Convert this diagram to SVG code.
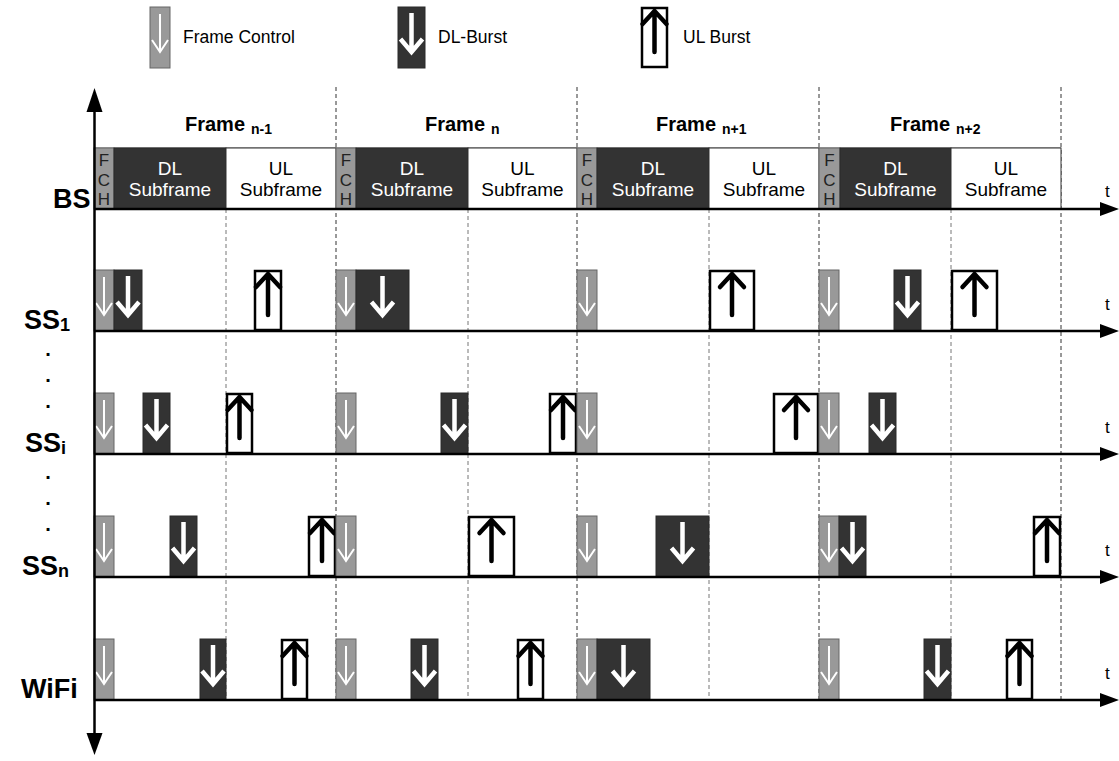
<svg xmlns="http://www.w3.org/2000/svg" width="1119" height="761" viewBox="0 0 1119 761">
<style>
.ax{stroke:#000;stroke-width:2.5;fill:none}
.ah{fill:#000}
.d1{stroke:#333;stroke-width:1;stroke-dasharray:4 3;fill:none}
.d2{stroke:#777;stroke-width:1;stroke-dasharray:4 3;fill:none}
.fc{fill:#999;stroke:#666;stroke-width:1}
.dl{fill:#333;stroke:#2a2a2a;stroke-width:1}
.ul{fill:#fff;stroke:#000;stroke-width:2.5}
.ulb{fill:#fff;stroke:#333;stroke-width:1}
.lbl{font-family:"Liberation Sans",Arial,sans-serif;font-weight:bold;font-size:27px;fill:#000}
.dot{font-family:"Liberation Sans",Arial,sans-serif;font-weight:bold;font-size:20px;fill:#000;text-anchor:middle}
.hdr{font-family:"Liberation Sans",Arial,sans-serif;font-weight:bold;font-size:20px;fill:#000}
.sub{font-size:14px}
.leg{font-family:"Liberation Sans",Arial,sans-serif;font-size:17.5px;fill:#000}
.sf{font-family:"Liberation Sans",Arial,sans-serif;font-size:19px;text-anchor:middle}
.fch{font-family:"Liberation Sans",Arial,sans-serif;font-size:17px;text-anchor:middle;fill:#222}
.tt{font-family:"Liberation Sans",Arial,sans-serif;font-size:17px;fill:#000}
</style>
<defs>
<g id="aFC"><path d="M0,-54V-16M-8,-28L0,-16L8,-28" fill="none" stroke="#fff" stroke-width="2"/></g>
<g id="aDL"><path d="M0,-55V-17M-11,-29L0,-16L11,-29" fill="none" stroke="#fff" stroke-width="4.5"/></g>
<g id="aUL"><path d="M0,-57V-16M-12,-44L0,-57L12,-44" fill="none" stroke="#000" stroke-width="4.5" stroke-linecap="round"/></g>
</defs>

<g id="legend">
<g id="leg-fc"><rect class="fc" x="150" y="7" width="20" height="61"/><use href="#aFC" x="160" y="68"/><text class="leg" x="183" y="43">Frame Control</text></g>
<g id="leg-dl"><rect class="dl" x="398" y="7" width="27" height="61"/><use href="#aDL" x="411.5" y="68"/><text class="leg" x="438" y="43">DL-Burst</text></g>
<g id="leg-ul"><rect class="ul" x="642" y="8" width="25" height="59"/><use href="#aUL" x="654.5" y="68"/><text class="leg" x="683" y="43">UL Burst</text></g>
</g>

<g id="connectors">
<path class="d1" d="M336,87V700M577,87V700M819,87V700M1061,87V700"/>
<path class="d2" d="M226,209V700M468,209V700M709,209V700M951,209V700"/>
</g>

<g id="headers">
<text class="hdr" x="185" y="131">Frame<tspan class="sub" dx="6" dy="3">n-1</tspan></text>
<text class="hdr" x="425" y="131">Frame<tspan class="sub" dx="6" dy="3">n</tspan></text>
<text class="hdr" x="656" y="131">Frame<tspan class="sub" dx="6" dy="3">n+1</tspan></text>
<text class="hdr" x="890" y="131">Frame<tspan class="sub" dx="6" dy="3">n+2</tspan></text>
</g>

<g id="bs-row">
<line x1="94" y1="148" x2="1061" y2="148" stroke="#666" stroke-width="1"/>
<g id="bs-f1"><rect class="fc" x="94" y="148" width="20" height="61"/><text class="fch"><tspan x="104" y="166">F</tspan><tspan x="104" y="185.5">C</tspan><tspan x="104" y="205">H</tspan></text>
<rect class="dl" x="114" y="148" width="112" height="61"/><text class="sf" fill="#fff"><tspan x="170" y="175">DL</tspan><tspan x="170" y="196">Subframe</tspan></text>
<rect class="ulb" x="226" y="148" width="110" height="61"/><text class="sf" fill="#000"><tspan x="281" y="175">UL</tspan><tspan x="281" y="196">Subframe</tspan></text></g>
<g id="bs-f2"><rect class="fc" x="336" y="148" width="20" height="61"/><text class="fch"><tspan x="346" y="166">F</tspan><tspan x="346" y="185.5">C</tspan><tspan x="346" y="205">H</tspan></text>
<rect class="dl" x="356" y="148" width="112" height="61"/><text class="sf" fill="#fff"><tspan x="412" y="175">DL</tspan><tspan x="412" y="196">Subframe</tspan></text>
<rect class="ulb" x="468" y="148" width="109" height="61"/><text class="sf" fill="#000"><tspan x="522.5" y="175">UL</tspan><tspan x="522.5" y="196">Subframe</tspan></text></g>
<g id="bs-f3"><rect class="fc" x="577" y="148" width="20" height="61"/><text class="fch"><tspan x="587" y="166">F</tspan><tspan x="587" y="185.5">C</tspan><tspan x="587" y="205">H</tspan></text>
<rect class="dl" x="597" y="148" width="112" height="61"/><text class="sf" fill="#fff"><tspan x="653" y="175">DL</tspan><tspan x="653" y="196">Subframe</tspan></text>
<rect class="ulb" x="709" y="148" width="110" height="61"/><text class="sf" fill="#000"><tspan x="764" y="175">UL</tspan><tspan x="764" y="196">Subframe</tspan></text></g>
<g id="bs-f4"><rect class="fc" x="819" y="148" width="21" height="61"/><text class="fch"><tspan x="829.5" y="166">F</tspan><tspan x="829.5" y="185.5">C</tspan><tspan x="829.5" y="205">H</tspan></text>
<rect class="dl" x="840" y="148" width="111" height="61"/><text class="sf" fill="#fff"><tspan x="895.5" y="175">DL</tspan><tspan x="895.5" y="196">Subframe</tspan></text>
<rect class="ulb" x="951" y="148" width="110" height="61"/><text class="sf" fill="#000"><tspan x="1006" y="175">UL</tspan><tspan x="1006" y="196">Subframe</tspan></text></g>
</g>

<g id="ss1-row">
<g id="ss1-1"><rect class="fc" x="94" y="270" width="20" height="61"/><use href="#aFC" x="104" y="331"/></g>
<g id="ss1-2"><rect class="dl" x="114" y="270" width="28" height="61"/><use href="#aDL" x="128" y="331"/></g>
<g id="ss1-3"><rect class="ul" x="255" y="271" width="26" height="59"/><use href="#aUL" x="268" y="331"/></g>
<g id="ss1-4"><rect class="fc" x="336" y="270" width="20" height="61"/><use href="#aFC" x="346" y="331"/></g>
<g id="ss1-5"><rect class="dl" x="356" y="270" width="53" height="61"/><use href="#aDL" x="382.5" y="331"/></g>
<g id="ss1-6"><rect class="fc" x="577" y="270" width="20" height="61"/><use href="#aFC" x="587" y="331"/></g>
<g id="ss1-7"><rect class="ul" x="710" y="271" width="44" height="59"/><use href="#aUL" x="732" y="331"/></g>
<g id="ss1-8"><rect class="fc" x="819" y="270" width="20" height="61"/><use href="#aFC" x="829" y="331"/></g>
<g id="ss1-9"><rect class="dl" x="894" y="270" width="27" height="61"/><use href="#aDL" x="907.5" y="331"/></g>
<g id="ss1-10"><rect class="ul" x="952" y="271" width="45" height="59"/><use href="#aUL" x="974.5" y="331"/></g>
</g>

<g id="ssi-row">
<g id="ssi-1"><rect class="fc" x="94" y="393" width="20" height="61"/><use href="#aFC" x="104" y="454"/></g>
<g id="ssi-2"><rect class="dl" x="143" y="393" width="27" height="61"/><use href="#aDL" x="156.5" y="454"/></g>
<g id="ssi-3"><rect class="ul" x="227" y="394" width="25" height="59"/><use href="#aUL" x="239.5" y="454"/></g>
<g id="ssi-4"><rect class="fc" x="336" y="393" width="20" height="61"/><use href="#aFC" x="346" y="454"/></g>
<g id="ssi-5"><rect class="dl" x="441" y="393" width="27" height="61"/><use href="#aDL" x="454.5" y="454"/></g>
<g id="ssi-6"><rect class="ul" x="550" y="394" width="26" height="59"/><use href="#aUL" x="563" y="454"/></g>
<g id="ssi-7"><rect class="fc" x="577" y="393" width="20" height="61"/><use href="#aFC" x="587" y="454"/></g>
<g id="ssi-8"><rect class="ul" x="774" y="394" width="44" height="59"/><use href="#aUL" x="796" y="454"/></g>
<g id="ssi-9"><rect class="fc" x="819" y="393" width="20" height="61"/><use href="#aFC" x="829" y="454"/></g>
<g id="ssi-10"><rect class="dl" x="869" y="393" width="27" height="61"/><use href="#aDL" x="882.5" y="454"/></g>
</g>

<g id="ssn-row">
<g id="ssn-1"><rect class="fc" x="94" y="516" width="20" height="61"/><use href="#aFC" x="104" y="577"/></g>
<g id="ssn-2"><rect class="dl" x="170" y="516" width="27" height="61"/><use href="#aDL" x="183.5" y="577"/></g>
<g id="ssn-3"><rect class="ul" x="309" y="517" width="26" height="59"/><use href="#aUL" x="322" y="577"/></g>
<g id="ssn-4"><rect class="fc" x="336" y="516" width="20" height="61"/><use href="#aFC" x="346" y="577"/></g>
<g id="ssn-5"><rect class="ul" x="469" y="517" width="45" height="59"/><use href="#aUL" x="491.5" y="577"/></g>
<g id="ssn-6"><rect class="fc" x="577" y="516" width="20" height="61"/><use href="#aFC" x="587" y="577"/></g>
<g id="ssn-7"><rect class="dl" x="656" y="516" width="53" height="61"/><use href="#aDL" x="682.5" y="577"/></g>
<g id="ssn-8"><rect class="fc" x="819" y="516" width="20" height="61"/><use href="#aFC" x="829" y="577"/></g>
<g id="ssn-9"><rect class="dl" x="839" y="516" width="27" height="61"/><use href="#aDL" x="852.5" y="577"/></g>
<g id="ssn-10"><rect class="ul" x="1034" y="517" width="26" height="59"/><use href="#aUL" x="1047" y="577"/></g>
</g>

<g id="wifi-row">
<g id="wf-1"><rect class="fc" x="94" y="639" width="20" height="61"/><use href="#aFC" x="104" y="700"/></g>
<g id="wf-2"><rect class="dl" x="200" y="639" width="26" height="61"/><use href="#aDL" x="213" y="700"/></g>
<g id="wf-3"><rect class="ul" x="282" y="640" width="25" height="59"/><use href="#aUL" x="294.5" y="700"/></g>
<g id="wf-4"><rect class="fc" x="336" y="639" width="20" height="61"/><use href="#aFC" x="346" y="700"/></g>
<g id="wf-5"><rect class="dl" x="411" y="639" width="27" height="61"/><use href="#aDL" x="424.5" y="700"/></g>
<g id="wf-6"><rect class="ul" x="518" y="640" width="25" height="59"/><use href="#aUL" x="530.5" y="700"/></g>
<g id="wf-7"><rect class="fc" x="577" y="639" width="20" height="61"/><use href="#aFC" x="587" y="700"/></g>
<g id="wf-8"><rect class="dl" x="597" y="639" width="53" height="61"/><use href="#aDL" x="623.5" y="700"/></g>
<g id="wf-9"><rect class="fc" x="819" y="639" width="20" height="61"/><use href="#aFC" x="829" y="700"/></g>
<g id="wf-10"><rect class="dl" x="924" y="639" width="27" height="61"/><use href="#aDL" x="937.5" y="700"/></g>
<g id="wf-11"><rect class="ul" x="1007" y="640" width="25" height="59"/><use href="#aUL" x="1019.5" y="700"/></g>
</g>

<g id="axes">
<path class="ax" d="M94.5,108V740"/>
<polygon class="ah" points="94.5,88 86.5,112 102.5,112"/>
<polygon class="ah" points="94.5,755 86.5,733 102.5,733"/>
<path class="ax" d="M94,209H1102M94,331H1102M94,454H1102M94,577H1102M94,700H1102"/>
<polygon class="ah" points="1100,202 1119,209 1100,216"/>
<polygon class="ah" points="1100,324 1119,331 1100,338"/>
<polygon class="ah" points="1100,447 1119,454 1100,461"/>
<polygon class="ah" points="1100,570 1119,577 1100,584"/>
<polygon class="ah" points="1100,693 1119,700 1100,707"/>
<text class="tt" x="1105" y="197">t</text>
<text class="tt" x="1105" y="310">t</text>
<text class="tt" x="1105" y="433">t</text>
<text class="tt" x="1105" y="556">t</text>
<text class="tt" x="1105" y="679">t</text>
</g>

<g id="labels">
<text class="lbl" x="53" y="208">BS</text>
<text class="lbl" x="24" y="329">SS<tspan font-size="18" dy="2">1</tspan></text>
<text class="lbl" x="25" y="452">SS<tspan font-size="18" dy="2">i</tspan></text>
<text class="lbl" x="22" y="575">SS<tspan font-size="18" dy="2">n</tspan></text>
<text class="lbl" x="21" y="698">WiFi</text>
<text class="dot" x="48" y="356">.</text>
<text class="dot" x="48" y="382">.</text>
<text class="dot" x="48" y="408">.</text>
<text class="dot" x="48" y="479">.</text>
<text class="dot" x="48" y="505">.</text>
<text class="dot" x="48" y="531">.</text>
</g>
</svg>
